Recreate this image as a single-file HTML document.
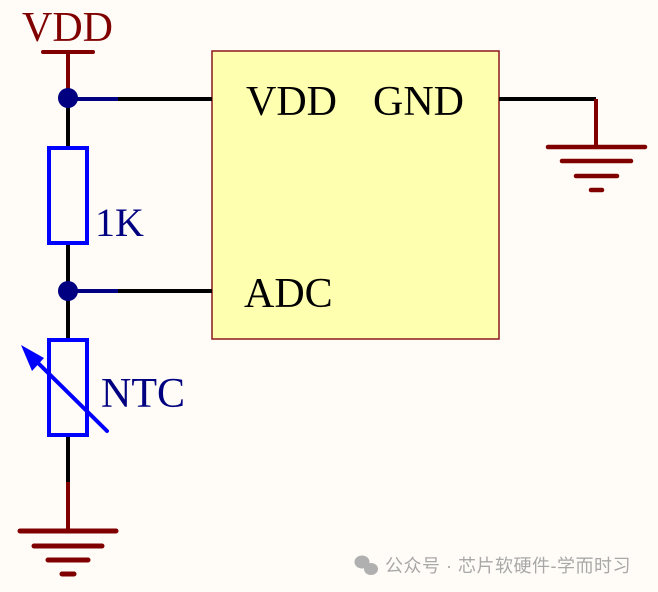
<!DOCTYPE html>
<html><head><meta charset="utf-8"><style>
html,body{margin:0;padding:0;background:#fffcf7;overflow:hidden;}
svg{display:block}
</style></head><body>
<svg width="658" height="592" viewBox="0 0 658 592" xmlns="http://www.w3.org/2000/svg">
<rect width="658" height="592" fill="#fffcf7"/>
<!-- IC box -->
<rect x="212" y="51" width="287" height="288" fill="#ffffb0" stroke="#8b1a1a" stroke-width="1.5"/>
<g font-family="Liberation Serif, serif" font-size="42" fill="#000">
<text x="246" y="115">VDD</text>
<text x="373" y="115">GND</text>
<text x="244" y="307">ADC</text>
</g>
<!-- VDD symbol -->
<text x="22" y="41" font-family="Liberation Serif, serif" font-size="42" fill="#800000">VDD</text>
<line x1="43" y1="52" x2="93" y2="52" stroke="#800000" stroke-width="4" stroke-linecap="round"/>
<line x1="68" y1="52" x2="68" y2="98" stroke="#800000" stroke-width="4"/>
<!-- wires -->
<line x1="68" y1="98" x2="68" y2="147" stroke="#000" stroke-width="4"/>
<line x1="68" y1="244" x2="68" y2="340" stroke="#000" stroke-width="4"/>
<line x1="68" y1="435" x2="68" y2="482" stroke="#000" stroke-width="4"/>
<line x1="68" y1="482" x2="68" y2="531" stroke="#800000" stroke-width="4"/>
<line x1="68" y1="99" x2="118" y2="99" stroke="#000080" stroke-width="4"/>
<line x1="118" y1="99" x2="212" y2="99" stroke="#000" stroke-width="4"/>
<line x1="68" y1="291" x2="118" y2="291" stroke="#000080" stroke-width="4"/>
<line x1="118" y1="291" x2="212" y2="291" stroke="#000" stroke-width="4"/>
<circle cx="68" cy="98" r="10" fill="#000080"/>
<circle cx="68" cy="291" r="10" fill="#000080"/>
<!-- resistor -->
<rect x="49" y="148" width="38" height="95" fill="none" stroke="#0000ff" stroke-width="4"/>
<text x="95" y="236" font-family="Liberation Serif, serif" font-size="40" fill="#000080">1K</text>
<!-- NTC -->
<rect x="49" y="340" width="38" height="95" fill="none" stroke="#0000ff" stroke-width="4"/>
<line x1="107" y1="431" x2="32" y2="357" stroke="#0000ff" stroke-width="4" stroke-linecap="round"/>
<polygon points="21,345 44,358 32,371" fill="#0000ff"/>
<text x="101" y="407" font-family="Liberation Serif, serif" font-size="42" fill="#000080">NTC</text>
<!-- bottom ground -->
<g stroke="#800000" stroke-width="5" stroke-linecap="round">
<line x1="20" y1="531" x2="116" y2="531"/>
<line x1="34" y1="546" x2="102" y2="546"/>
<line x1="48" y1="560" x2="88" y2="560"/>
<line x1="62" y1="574" x2="74" y2="574"/>
</g>
<!-- right ground -->
<line x1="499" y1="99" x2="596" y2="99" stroke="#000" stroke-width="4"/>
<line x1="596" y1="99" x2="596" y2="147" stroke="#800000" stroke-width="4"/>
<g stroke="#800000" stroke-width="4.5" stroke-linecap="round">
<line x1="548" y1="147" x2="645" y2="147"/>
<line x1="562" y1="161" x2="631" y2="161"/>
<line x1="576" y1="176" x2="617" y2="176"/>
<line x1="591" y1="190" x2="602" y2="190"/>
</g>
<!-- watermark -->
<g fill="#b0b0b0">
<ellipse cx="362" cy="562" rx="7.5" ry="6.5"/>
<ellipse cx="371" cy="569" rx="7" ry="6"/>
</g>
<text x="385" y="572" font-family="Liberation Sans, Noto Sans CJK SC, sans-serif" font-size="18" letter-spacing="0.5" fill="#a8a8a8">公众号 · 芯片软硬件-学而时习</text>
</svg>
</body></html>
